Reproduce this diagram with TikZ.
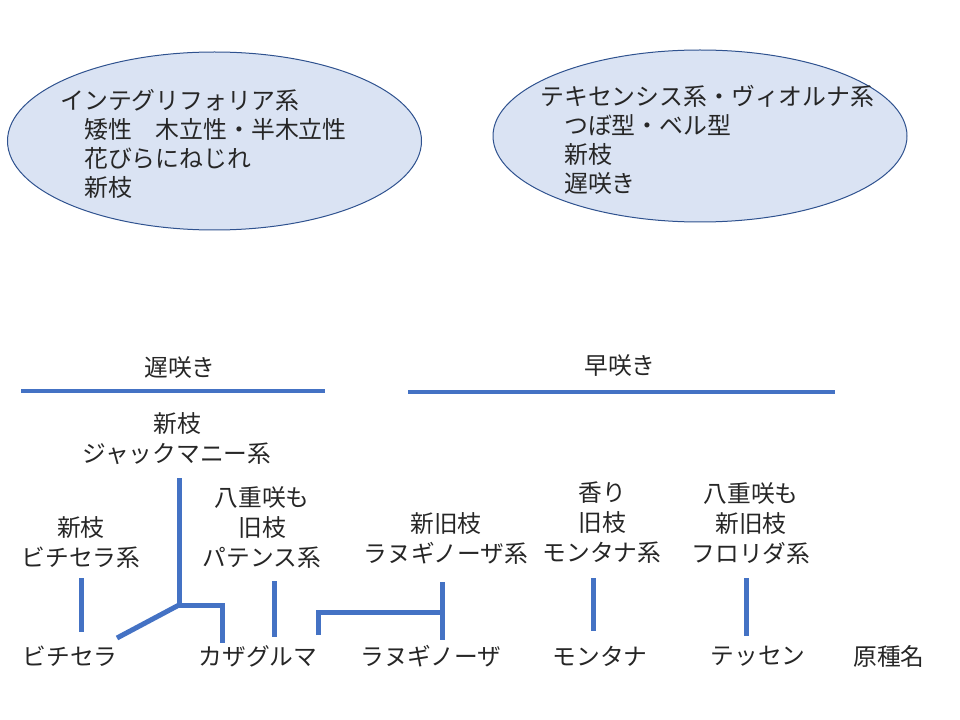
\documentclass[tikz,border=0pt]{standalone}
\usepackage{fontspec}
\setmainfont{Noto Sans CJK JP}
\usetikzlibrary{shapes.geometric}
\definecolor{lineblue}{HTML}{4472C4}
\definecolor{ellfill}{HTML}{DAE3F3}
\definecolor{ellbord}{HTML}{2F528F}
\begin{document}
\begin{tikzpicture}[x=0.75pt,y=-0.75pt,
  txt/.style={inner sep=0pt,font=\fontsize{17.8pt}{22.5pt}\selectfont,text=black!85,align=center},
  elltxt/.style={inner sep=0pt,font=\fontsize{17.9pt}{21.75pt}\selectfont,text=black!85,align=left,anchor=west},
  bubble/.style={ellipse,draw=ellbord,line width=0.75pt,fill=ellfill,inner sep=0pt},
  conn/.style={draw=lineblue,line width=3.75pt,line cap=butt,line join=miter},
  rule/.style={draw=lineblue,line width=2.6pt,line cap=butt}]
\useasboundingbox (0,0) rectangle (960,720);
% ellipses
\node[bubble,minimum width=310.5pt,minimum height=133.5pt] (e1) at (214.5,141) {};
\node[bubble,minimum width=310.5pt,minimum height=129pt] (e2) at (700,136) {};
\node[elltxt] (e1t) at (60,143.5) {インテグリフォリア系\\　矮性　木立性・半木立性\\　花びらにねじれ\\　新枝};
\node[elltxt] (e2t) at (540,139.5) {テキセンシス系・ヴィオルナ系\\　つぼ型・ベル型\\　新枝\\　遅咲き};
% headings
\node[txt] (late) at (180,367) {遅咲き};
\node[txt] (early) at (620,365) {早咲き};
\coordinate (l1a) at (21,391); \coordinate (l1b) at (325,391);
\coordinate (l2a) at (408,392); \coordinate (l2b) at (835,392);
\draw[rule] (l1a) -- (l1b);
\draw[rule] (l2a) -- (l2b);
% group nodes
\node[txt] (jack) at (177,439) {新枝\\ジャックマニー系};
\node[txt] (vitg) at (81,542) {新枝\\ビチセラ系};
\node[txt] (pat) at (262,527) {八重咲も\\旧枝\\パテンス系};
\node[txt] (lang) at (446,538.5) {新旧枝\\ラヌギノーザ系};
\node[txt] (mong) at (602,523) {香り\\旧枝\\モンタナ系};
\node[txt] (flo) at (751,523) {八重咲も\\新旧枝\\フロリダ系};
% species
\node[txt] (vit) at (70,656) {ビチセラ};
\node[txt] (kaz) at (258,656) {カザグルマ};
\node[txt] (lan) at (431,656) {ラヌギノーザ};
\node[txt] (mon) at (600,656) {モンタナ};
\node[txt] (tes) at (758,656) {テッセン};
\node[txt] (gen) at (889,656) {原種名};
% connector coordinates
\coordinate (jtop) at (179,478);
\coordinate (jmid) at (179,605);
\coordinate (jr) at (222,605);
\coordinate (jrb) at (222,643);
\coordinate (jdl) at (117,638);
\coordinate (vtop) at (81,578); \coordinate (vbot) at (81,632);
\coordinate (ptop) at (274,581); \coordinate (pbot) at (274,637);
\coordinate (ltop) at (442,582); \coordinate (lbot) at (442,640);
\coordinate (lmid) at (442,612); \coordinate (lleft) at (318,612); \coordinate (llb) at (318,635);
\coordinate (mtop) at (593,578); \coordinate (mbot) at (593,631);
\coordinate (ftop) at (746,578); \coordinate (fbot) at (746,636);
% connectors
\draw[conn] (jtop) -- (jmid) -- (jr) -- (jrb);
\draw[conn] (jmid) -- (jdl);
\draw[conn] (vtop) -- (vbot);
\draw[conn] (ptop) -- (pbot);
\draw[conn] (ltop) -- (lbot);
\draw[conn] (llb) -- (lleft) -- (lmid);
\draw[conn] (mtop) -- (mbot);
\draw[conn] (ftop) -- (fbot);
\end{tikzpicture}
\end{document}
